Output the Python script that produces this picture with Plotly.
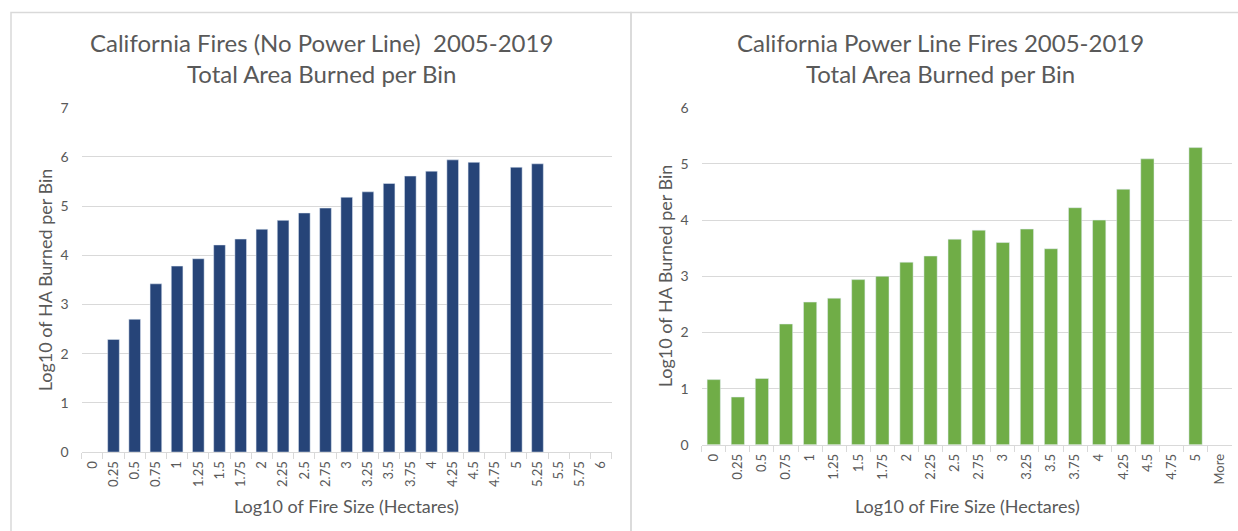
import plotly.graph_objects as go

# ---- data ----
left_bins = ["0", "0.25", "0.5", "0.75", "1", "1.25", "1.5", "1.75", "2", "2.25", "2.5",
             "2.75", "3", "3.25", "3.5", "3.75", "4", "4.25", "4.5", "4.75", "5", "5.25",
             "5.5", "5.75", "6"]
left_values = [None, 2.29, 2.70, 3.42, 3.78, 3.93, 4.21, 4.33, 4.53, 4.71, 4.86,
               4.96, 5.18, 5.29, 5.46, 5.61, 5.71, 5.94, 5.89, None, 5.79, 5.86,
               None, None, None]

right_bins = ["0", "0.25", "0.5", "0.75", "1", "1.25", "1.5", "1.75", "2", "2.25", "2.5",
              "2.75", "3", "3.25", "3.5", "3.75", "4", "4.25", "4.5", "4.75", "5", "More"]
right_values = [1.16, 0.85, 1.18, 2.15, 2.54, 2.61, 2.94, 3.00, 3.25, 3.36, 3.66,
                3.82, 3.60, 3.84, 3.49, 4.22, 4.00, 4.55, 5.09, None, 5.29, None]

left_title = "California Fires (No Power Line)  2005-2019<br>Total Area Burned per Bin"
right_title = "California Power Line Fires 2005-2019<br>Total Area Burned per Bin"
x_title = "Log10 of Fire Size (Hectares)"
y_title = "Log10 of HA Burned per Bin"

W, H = 1238, 531
FONT = "Lato, 'Open Sans', sans-serif"
TXT = "#595959"
GRID = "#d9d9d9"
# observed page mapping: screen_y = 8 + 0.9707 * figure_y
Y_OFF, Y_SCALE = 8.0, 0.9707


def px(x):
    return x / W


def py(y):
    return 1 - ((y - Y_OFF) / Y_SCALE) / H


fig = go.Figure()
fig.add_trace(go.Bar(x=left_bins, y=left_values, marker_color="#264478",
                     xaxis="x", yaxis="y", showlegend=False))
fig.add_trace(go.Bar(x=right_bins, y=right_values, marker_color="#70ad47",
                     xaxis="x2", yaxis="y2", showlegend=False))

xcommon = dict(type="category", showgrid=False, showline=True, linecolor=GRID, linewidth=1,
               ticks="outside", tickson="boundaries", ticklen=6, tickcolor=GRID,
               tickangle=-90, tickfont=dict(family=FONT, size=13, color=TXT),
               ticklabelstandoff=3, fixedrange=True)
ycommon = dict(showgrid=True, gridcolor=GRID, gridwidth=1, zeroline=False, showline=False,
               dtick=1, tickfont=dict(family=FONT, size=14, color=TXT),
               ticklabelstandoff=12, fixedrange=True)

fig.update_layout(
    width=W, height=H, margin=dict(l=0, r=0, t=0, b=0),
    paper_bgcolor="white", plot_bgcolor="white", bargap=0.45,
    xaxis=dict(domain=[px(81.7), px(611.7)], anchor="y", **xcommon),
    yaxis=dict(domain=[py(452.3), py(107)], anchor="x", range=[0, 7], **ycommon),
    xaxis2=dict(domain=[px(701.7), px(1231.7)], anchor="y2", **xcommon),
    yaxis2=dict(domain=[py(445), py(107)], anchor="x2", range=[0, 6], **ycommon),
)

shapes = [
    dict(type="rect", xref="paper", yref="paper", x0=px(11), x1=px(631), y0=-0.1, y1=py(11.5),
         line=dict(color=GRID, width=1.5), fillcolor="rgba(0,0,0,0)", layer="below"),
    dict(type="rect", xref="paper", yref="paper", x0=px(631), x1=px(1260), y0=-0.1, y1=py(11.5),
         line=dict(color=GRID, width=1.5), fillcolor="rgba(0,0,0,0)", layer="below"),
]
fig.update_layout(shapes=shapes)


def add_text(text, x, y, size, angle=0):
    return dict(text=text, x=px(x), y=py(y), xref="paper", yref="paper",
                xanchor="center", yanchor="middle", textangle=angle, showarrow=False,
                align="center", font=dict(family=FONT, size=size, color=TXT))


ann = [
    add_text(left_title, 321, 57, 24),
    add_text(right_title, 940, 57, 24),
    add_text(x_title, 347, 506, 18),
    add_text(x_title, 967, 506, 18),
    add_text(y_title, 45, 280, 18, -90),
    add_text(y_title, 665, 276, 18, -90),
]
fig.update_layout(annotations=ann)

fig.write_html("out.html", config={"displayModeBar": False},
               post_script="document.body.style.margin='0';document.body.style.overflow='hidden';")
